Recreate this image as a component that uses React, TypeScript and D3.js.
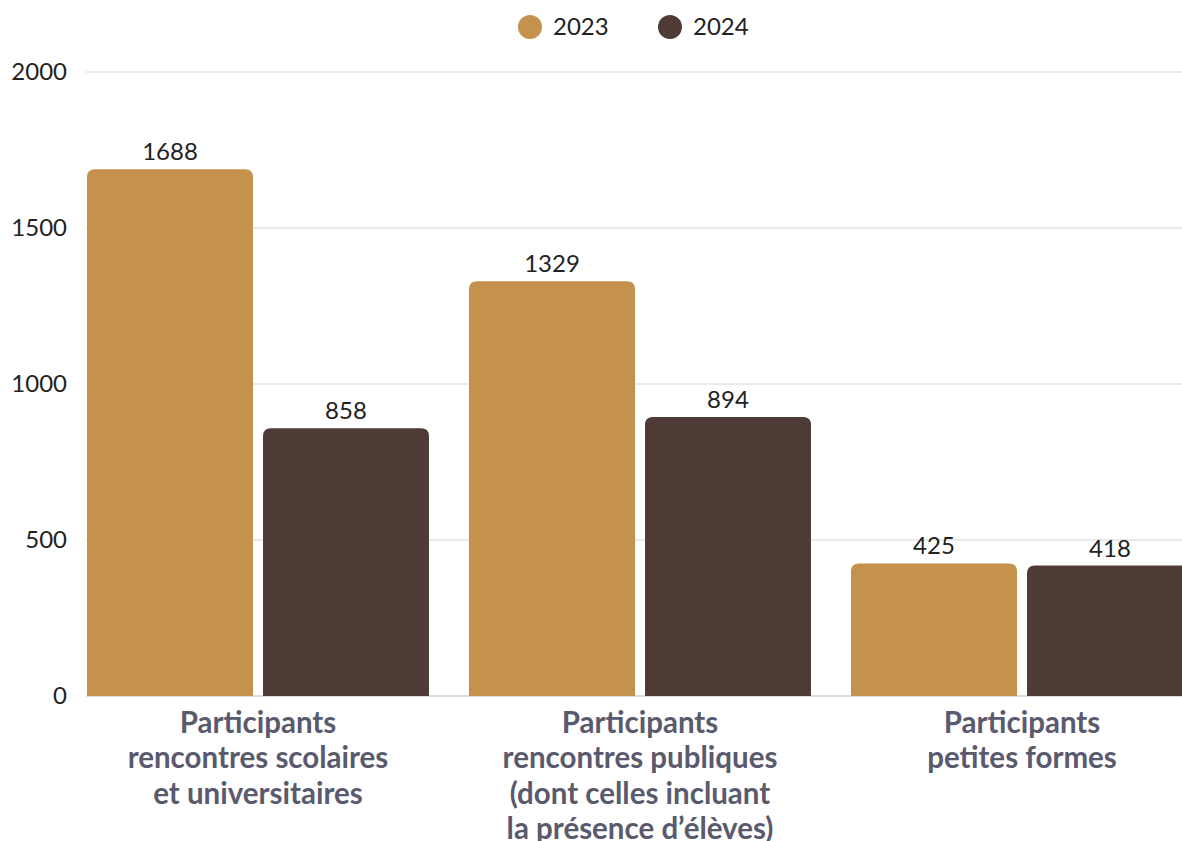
import React from "react";
import * as d3 from "d3";

const categories: string[][] = [
  ["Participants", "rencontres scolaires", "et universitaires"],
  ["Participants", "rencontres publiques", "(dont celles incluant", "la présence d’élèves)"],
  ["Participants", "petites formes"],
];
const seriesNames = ["2023", "2024"];
const values2023 = [1688, 1329, 425];
const values2024 = [858, 894, 418];
const yTicks = [0, 500, 1000, 1500, 2000];
const colors = ["#C4924D", "#4E3B35"];

const W = 1182;
const H = 841;
const FONT = "Lato, 'Open Sans', sans-serif";

function topRoundedRect(x: number, y: number, w: number, h: number, r: number) {
  const rr = Math.min(r, h, w / 2);
  return `M${x},${y + h}V${y + rr}Q${x},${y} ${x + rr},${y}H${x + w - rr}Q${x + w},${y} ${x + w},${y + rr}V${y + h}Z`;
}

export default function App() {
  const y = d3.scaleLinear().domain([0, 2000]).range([696, 72]);
  const x0 = d3
    .scaleBand<number>()
    .domain(categories.map((_, i) => i))
    .range([87, 1193])
    .paddingInner(40 / 382)
    .paddingOuter(0);
  const x1 = d3
    .scaleBand<string>()
    .domain(seriesNames)
    .range([0, x0.bandwidth()])
    .paddingInner(10 / 176);
  const series = [values2023, values2024];

  return (
    <div style={{ position: "fixed", left: 0, top: 0, width: W, height: H, overflow: "hidden", background: "#fff" }}>
      <svg width={W} height={H} style={{ display: "block", fontFamily: FONT }}>
        {yTicks.map((t) => (
          <line key={t} x1={86} x2={W} y1={y(t)} y2={y(t)} stroke={t === 0 ? "#cfcfcf" : "#e3e3e3"} strokeWidth={1.5} />
        ))}
        {yTicks.map((t) => (
          <text key={"l" + t} x={67} y={y(t)} dy="0.35em" textAnchor="end" fontSize={24} fill="#222">
            {t}
          </text>
        ))}
        {categories.map((_, ci) =>
          seriesNames.map((s, si) => {
            const v = series[si][ci];
            const bx = (x0(ci) as number) + (x1(s) as number);
            const bw = x1.bandwidth();
            const top = y(v);
            return (
              <g key={ci + "-" + s}>
                <path d={topRoundedRect(bx, top, bw, y(0) - top, 8)} fill={colors[si]} />
                <text x={bx + bw / 2} y={top - 9} textAnchor="middle" fontSize={24} fill="#222">
                  {v}
                </text>
              </g>
            );
          })
        )}
        {categories.map((lines, ci) => (
          <text
            key={"c" + ci}
            x={(x0(ci) as number) + x0.bandwidth() / 2}
            textAnchor="middle"
            fontSize={29.5}
            fontWeight={700}
            fill="#5a5a6e"
          >
            {lines.map((ln, li) => (
              <tspan key={li} x={(x0(ci) as number) + x0.bandwidth() / 2} y={733 + li * 35.3}>
                {ln}
              </tspan>
            ))}
          </text>
        ))}
        {seriesNames.map((s, i) => {
          const lx = 530 + i * 140;
          return (
            <g key={"lg" + s}>
              <circle cx={lx} cy={27} r={12} fill={colors[i]} />
              <text x={lx + 23} y={27} dy="0.35em" fontSize={24} fill="#222">
                {s}
              </text>
            </g>
          );
        })}
      </svg>
    </div>
  );
}
